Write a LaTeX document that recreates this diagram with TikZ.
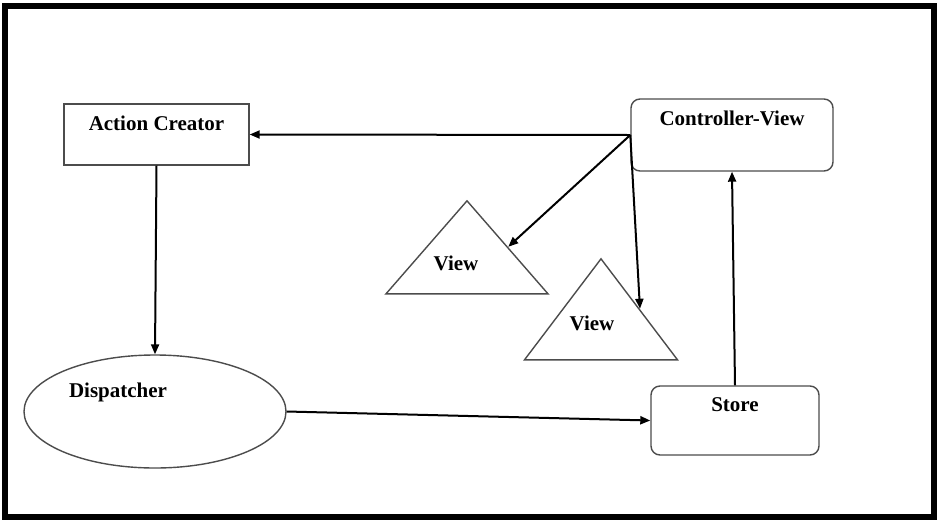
\documentclass[tikz,border=0pt]{standalone}
\usepackage{fontspec}
\setmainfont{Liberation Serif}
\usetikzlibrary{shapes.geometric, arrows.meta}
\tikzstyle{block} = [rectangle, draw=black!70, line width=1.4pt, inner sep=0pt]
\tikzstyle{roundblock} = [block, rounded corners=9pt]
\tikzstyle{oval} = [ellipse, draw=black!70, line width=1.4pt, inner sep=0pt, minimum width=262pt, minimum height=113pt]
\tikzstyle{viewtri} = [isosceles triangle, isosceles triangle stretches, shape border rotate=90, draw=black!70, line width=1.4pt, inner sep=0pt, anchor=apex]
\tikzstyle{title} = [anchor=north, inner sep=0pt, font=\bfseries\fontsize{21}{24}\selectfont, label distance=-12pt]
\tikzstyle{arrow} = [line width=2pt, -{Triangle[length=10pt,width=8pt]}]

\begin{document}
\begin{tikzpicture}[x=1pt, y=-1pt]
                % Frame
                \useasboundingbox (0,0) rectangle (940,520);
                \draw [line width=6pt] (5,5.5) rectangle (934,516.5);

                % Nodes
                \node (creator) [block, minimum width=185pt, minimum height=61pt, label={[title]north:Action Creator}] at (156.5,134.5) {};
                \node (ctrlview) [roundblock, minimum width=202pt, minimum height=72pt, label={[title]north:Controller-View}] at (732,135) {};
                \node (view1) [viewtri, minimum width=162pt, minimum height=93pt, label={[title, label distance=-57pt, xshift=-11pt]north:View}] at (467,199) {};
                \node (view2) [viewtri, minimum width=153pt, minimum height=101pt, label={[title, label distance=-59pt, xshift=-9pt]north:View}] at (601,257) {};
                \node (dispatcher) [oval, label={[title, label distance=-28pt, xshift=-37pt]north:Dispatcher}] at (155,411.5) {};
                \node (store) [roundblock, minimum width=168pt, minimum height=69pt, label={[title]north:Store}] at (735,420.5) {};

                % Arrows
                \draw [arrow] (ctrlview.west) -- (creator.east);
                \draw [arrow] (ctrlview.west) -- (view1.right side);
                \draw [arrow] (ctrlview.west) -- (view2.right side);
                \draw [arrow] (creator.south) -- (dispatcher.north);
                \draw [arrow] (dispatcher.east) -- (store.west);
                \draw [arrow] (store.north) -- (ctrlview.south);
\end{tikzpicture}
\end{document}
